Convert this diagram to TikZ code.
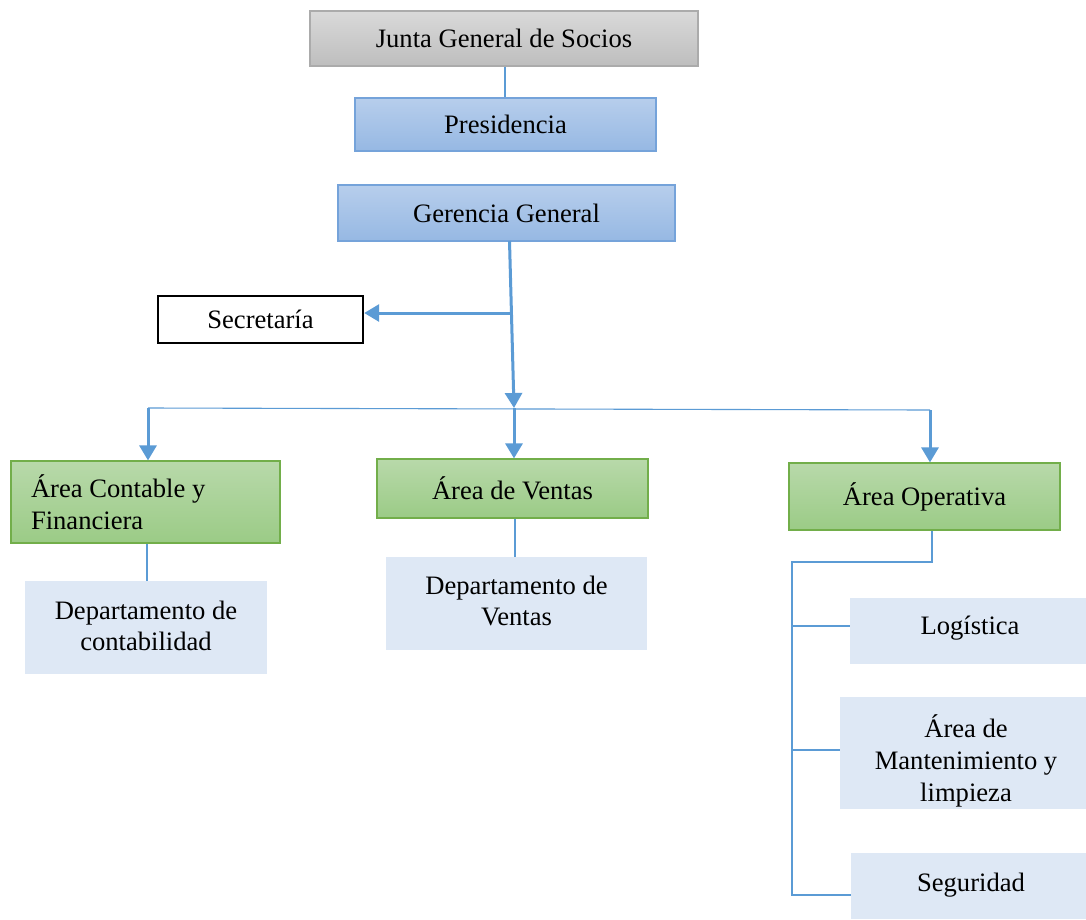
\documentclass[tikz,border=0pt]{standalone}
\usepackage{fontspec}
\setmainfont{Liberation Serif}
\usetikzlibrary{arrows.meta}
\definecolor{lnblue}{HTML}{5B9BD5}
\definecolor{bluetop}{HTML}{B7CEEC}
\definecolor{bluebot}{HTML}{96B8E3}
\definecolor{blueedge}{HTML}{75A3DA}
\definecolor{greentop}{HTML}{B8D9AA}
\definecolor{greenbot}{HTML}{9BCB86}
\definecolor{greenedge}{HTML}{72AE4A}
\definecolor{graytop}{HTML}{D9D9D9}
\definecolor{graybot}{HTML}{BEBEBE}
\definecolor{grayedge}{HTML}{ABABAB}
\definecolor{paleblue}{HTML}{DEE8F5}
\tikzset{
  base/.style={rectangle, inner sep=0pt, align=center, font=\fontsize{26.6}{31.5}\selectfont, text=black},
  graybox/.style={base, top color=graytop, bottom color=graybot, draw=grayedge, line width=1.2pt},
  bluebox/.style={base, top color=bluetop, bottom color=bluebot, draw=blueedge, line width=1.2pt},
  greenbox/.style={base, top color=greentop, bottom color=greenbot, draw=greenedge, line width=1.2pt},
  palebox/.style={base, fill=paleblue},
  plainbox/.style={base, fill=white, draw=black, line width=2.4pt},
  thinline/.style={draw=lnblue, line width=1.1pt},
  thickarrow/.style={draw=lnblue, line width=3pt, -{Triangle[width=17pt,length=15pt]}},
}
\begin{document}
\begin{tikzpicture}[x=1pt,y=-1pt]
\useasboundingbox (0,0) rectangle (1086,919);
\fill[white] (0,0) rectangle (1086,919);

\node[graybox, minimum width=388pt, minimum height=55pt] (junta) at (504,38.5) {Junta General de Socios};
\node[bluebox, minimum width=301pt, minimum height=53pt] (pres) at (505.5,124.5) {Presidencia};
\node[bluebox, minimum width=337pt, minimum height=56pt] (ger) at (506.5,213) {Gerencia General};
\node[plainbox, minimum width=205pt, minimum height=47pt] (sec) at (260.5,319.5) {Secretaría};

\node[greenbox, inner xsep=20pt, text width=229pt, align=flush left, minimum height=82pt] (cont) at (145.5,502) {Área Contable y\\Financiera};
\node[greenbox, minimum width=271pt, minimum height=59pt] (vent) at (512.5,488.5) {Área de Ventas};
\node[greenbox, minimum width=271pt, minimum height=67pt] (oper) at (924.5,496.5) {Área Operativa};

\node[palebox, minimum width=242pt, minimum height=93pt] (dcont) at (146,627.5) {};
\node[base] (dconttext) at (146,626) {Departamento de\\contabilidad};
\node[palebox, minimum width=261pt, minimum height=93pt] (dvent) at (516.5,603.5) {};
\node[base] (dventtext) at (516.5,601) {Departamento de\\Ventas};

\node[palebox, minimum width=236pt, minimum height=66pt] (log) at (968,631) {};
\node[base] (logtext) at (970,628) {Logística};
\node[palebox, minimum width=246pt, minimum height=112pt] (mant) at (963,753) {};
\node[base, font=\fontsize{26.6}{32}\selectfont] (manttext) at (966,761) {Área de\\Mantenimiento y\\limpieza};
\node[palebox, minimum width=235pt, minimum height=66pt] (seg) at (968.5,886) {};
\node[base] (segtext) at (971,885) {Seguridad};

% top links
\draw[thinline] (junta.south -| 505,0) -- (pres.north -| 505,0);

% Gerencia down
\coordinate (gtop) at (509.5,241);
\coordinate (hub) at (514,408);
\coordinate (sj) at (511,313);
\draw[thickarrow] (gtop) -- (hub);
\draw[thickarrow] (sj) -- (sj -| sec.east);

% bus
\coordinate (busL) at (148,408);
\coordinate (busR) at (930,410);
\draw[thinline] (busL) -- (busR);
\draw[thickarrow] (busL) -- (busL |- cont.north);
\draw[thickarrow] (hub) -- (hub |- vent.north);
\draw[thickarrow] (busR) -- (busR |- oper.north);

% areas to departments
\draw[thinline] (cont.south -| 147,0) -- (dcont.north -| 147,0);
\draw[thinline] (vent.south -| 515,0) -- (dvent.north -| 515,0);

% operativa tree
\coordinate (ob) at (932,562);
\coordinate (tt) at (792,562);
\coordinate (tb) at (792,895);
\draw[thinline] (oper.south -| ob) -- (ob) -- (tt) -- (tb) -- (tb -| seg.west);
\draw[thinline] (792,626) -- (log.west |- 0,626);
\draw[thinline] (792,750) -- (mant.west |- 0,750);
\end{tikzpicture}
\end{document}
